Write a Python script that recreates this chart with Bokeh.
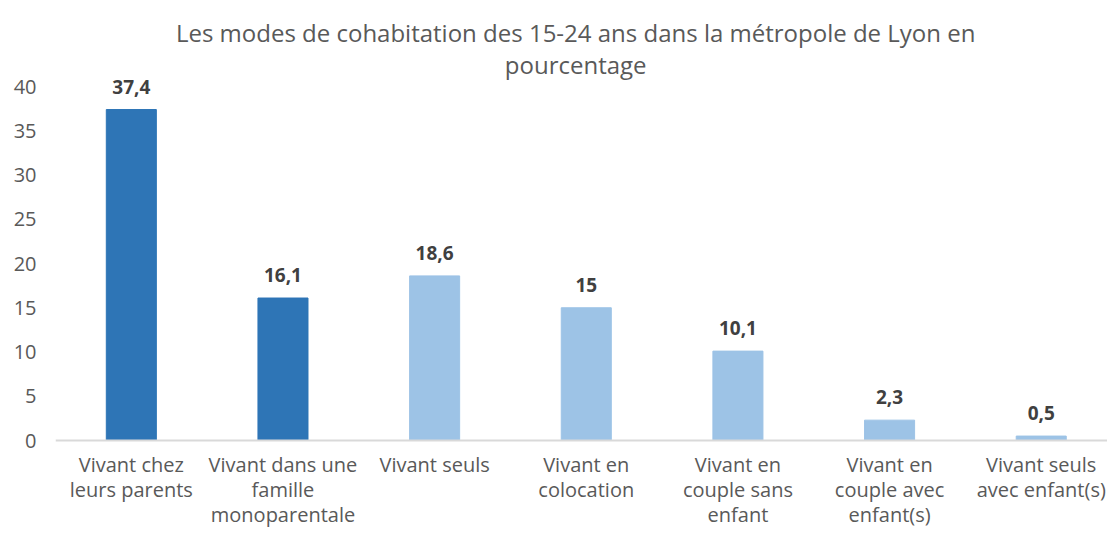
from bokeh.plotting import figure
from bokeh.models import ColumnDataSource, Range1d, FixedTicker, LabelSet, Label, Span
from bokeh.core.properties import value
from bokeh.embed import file_html
from bokeh.resources import INLINE

title_lines = ["Les modes de cohabitation des 15-24 ans dans la métropole de Lyon en",
               "pourcentage"]
categories = [
    "Vivant chez\nleurs parents",
    "Vivant dans une\nfamille\nmonoparentale",
    "Vivant seuls",
    "Vivant en\ncolocation",
    "Vivant en\ncouple sans\nenfant",
    "Vivant en\ncouple avec\nenfant(s)",
    "Vivant seuls\navec enfant(s)",
]
values = [37.4, 16.1, 18.6, 15, 10.1, 2.3, 0.5]
dark = "#2E75B6"
light = "#9DC3E6"
bar_colors = [dark, dark, light, light, light, light, light]
y_ticks = [0, 5, 10, 15, 20, 25, 30, 35, 40]

FONT = "Open Sans"
TXT = "#595959"

# layout constants (frame spans whole canvas height; title & labels drawn inside)
W, H = 1107, 530
LEFT = 55
Y_MIN, Y_MAX = -10.17, 49.72
TITLE_X = 2.93
TITLE_Y = [46.1, 42.5]
CAT_FIRST_OFFSET = 24
CAT_LINE_SPACING = 25

xs = list(range(len(categories)))
src = ColumnDataSource(dict(
    x=xs,
    top=values,
    color=bar_colors,
    label=[f"{v:g}".replace(".", ",") for v in values],
))

p = figure(width=W, height=H, output_backend="svg", toolbar_location=None,
           x_range=Range1d(-0.5, 6.437), y_range=Range1d(Y_MIN, Y_MAX),
           min_border_left=LEFT, min_border_right=0, min_border_bottom=0,
           min_border_top=0, title=None)
p.outline_line_color = None
p.grid.grid_line_color = None
p.xaxis.visible = False

for txt, ty in zip(title_lines, TITLE_Y):
    p.add_layout(Label(x=TITLE_X, y=ty, text=txt, text_align="center",
                       text_baseline="middle", text_font=FONT, text_font_size="24px",
                       text_color=TXT))

p.add_layout(Span(location=0, dimension="width", line_color="#D9D9D9", line_width=2))

p.vbar(x="x", top="top", width=0.33, color="color", source=src)

labels = LabelSet(x="x", y="top", text="label", source=src, text_align="center",
                  text_baseline="alphabetic", y_offset=16, text_font=value(FONT),
                  text_font_size="19px", text_font_style="bold", text_color="#404040")
p.add_layout(labels)

# category labels, one centred line at a time
split = [c.split("\n") for c in categories]
max_lines = max(len(s) for s in split)
for k in range(max_lines):
    lx = [i for i, s in enumerate(split) if len(s) > k]
    lt = [split[i][k] for i in lx]
    lsrc = ColumnDataSource(dict(x=lx, y=[0] * len(lx), text=lt))
    p.add_layout(LabelSet(x="x", y="y", text="text", source=lsrc, text_align="center",
                          text_baseline="middle",
                          y_offset=-(CAT_FIRST_OFFSET + k * CAT_LINE_SPACING),
                          text_font=value(FONT), text_font_size="20px", text_color=TXT))

p.yaxis.ticker = FixedTicker(ticks=y_ticks)
p.yaxis.axis_line_color = None
p.yaxis.major_tick_line_color = None
p.yaxis.minor_tick_line_color = None
p.yaxis.major_label_text_font = FONT
p.yaxis.major_label_text_font_size = "20px"
p.yaxis.major_label_text_color = TXT
p.yaxis.major_label_standoff = 13

open("out.html", "w").write(file_html(p, INLINE))
